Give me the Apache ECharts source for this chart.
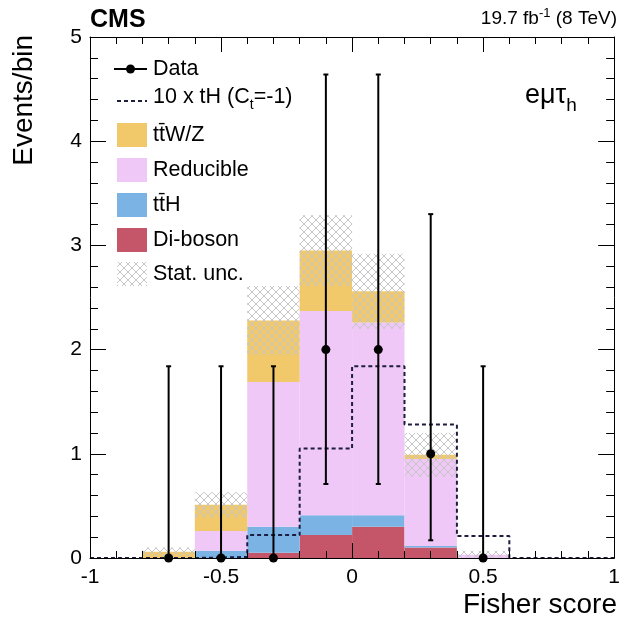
<!DOCTYPE html>
<html><head><meta charset="utf-8">
<script src="https://cdn.jsdelivr.net/npm/echarts@6/dist/echarts.min.js"></script>
<style>html,body{margin:0;padding:0;background:#fff}#c{width:623px;height:619px}</style>
</head><body><div id="c"></div>
<script>
// ---- data (bins of width 0.2 from -1 to 1) ----
const binEdges   = [-1, -0.8, -0.6, -0.4, -0.2, 0, 0.2, 0.4, 0.6, 0.8, 1];
const diboson    = [0, 0,    0,    0.05, 0.22, 0.30, 0.10,  0,    0, 0];
const ttH        = [0, 0,    0.07, 0.25, 0.19, 0.11, 0.015, 0,    0, 0];
const reducible  = [0, 0,    0.19, 1.39, 1.96, 1.85, 0.835, 0.03, 0, 0];
const ttWZ       = [0, 0.06, 0.25, 0.59, 0.58, 0.30, 0.04,  0,    0, 0];
const statUnc    = [0, 0.04, 0.12, 0.33, 0.34, 0.36, 0.21,  0.04, 0, 0];
const tH10       = [0, 0,    0.01, 0.22, 1.05, 1.84, 1.28,  0.21, 0, 0];
const dataCounts = [null, 0, 0, 0, 2, 2, 1, 0, null, null];
const dataLow    = [null, 0, 0, 0, 0.71, 0.71, 0.17, 0, null, null];
const dataHigh   = [null, 1.84, 1.84, 1.84, 4.64, 4.64, 3.30, 1.84, null, null];

const FONT = '"Liberation Sans", Arial, Helvetica, sans-serif';
const COLORS = {ttWZ:'#f1c86a', reducible:'#efc8f8', ttH:'#7ab3e4', diboson:'#c5566a'};

// hatch pattern
const pc = document.createElement('canvas'); pc.width = 8; pc.height = 8;
const g = pc.getContext('2d');
g.strokeStyle = '#c6c6c6'; g.lineWidth = 1;
g.beginPath(); g.moveTo(0,0); g.lineTo(8,8); g.moveTo(8,0); g.lineTo(0,8); g.stroke();
const hatch = {image: pc, repeat: 'repeat'};

// text measuring
const mc = document.createElement('canvas').getContext('2d');
function tw(t, size, weight) { mc.font = (weight||'normal') + ' ' + size + 'px ' + FONT; return mc.measureText(t).width; }
function pieces(x, y, parts, align) {
  let total = parts.reduce((s,p)=>s+tw(p.t,p.size,p.weight),0);
  let cx = align === 'right' ? x - total : x;
  return parts.map(p => { const el = {type:'text', x:cx, y:y+(p.dy||0), z:100,
      style:{text:p.t, font:(p.weight||'normal')+' '+p.size+'px '+FONT, fill:'#000', align:'left', verticalAlign:'middle'}};
    cx += tw(p.t,p.size,p.weight); return el; });
}

// stacking
const comps = [['Di-boson', diboson, COLORS.diboson], ['ttH', ttH, COLORS.ttH], ['Reducible', reducible, COLORS.reducible], ['ttWZ', ttWZ, COLORS.ttWZ]];
const base = binEdges.slice(0,-1).map(()=>0);
const series = [];
function rectItem(color) {
  return function(params, api) {
    const p0 = api.coord([api.value(0), api.value(3)]);
    const p1 = api.coord([api.value(1), api.value(2)]);
    return {type:'rect', shape:{x:p0[0], y:p0[1], width:p1[0]-p0[0], height:p1[1]-p0[1]}, style:{fill:color}};
  };
}
comps.forEach(([name, vals, color]) => {
  const data = vals.map((v,i)=>{ const d=[binEdges[i], binEdges[i+1], base[i], base[i]+v]; base[i]+=v; return d; });
  series.push({type:'custom', name, z:2, data, renderItem: rectItem(color), encode:{x:[0,1], y:[2,3]}});
});
const totals = base.slice();
series.push({type:'custom', name:'Stat. unc.', z:3,
  data: totals.map((t,i)=>[binEdges[i], binEdges[i+1], Math.max(0,t-statUnc[i]), t+statUnc[i]]).filter(d=>d[3]>0),
  renderItem: rectItem(hatch), encode:{x:[0,1], y:[2,3]}});
const stepData = tH10.map((v,i)=>[binEdges[i], v]); stepData.push([binEdges[binEdges.length-1], tH10[tH10.length-1]]);
series.push({type:'line', name:'10 x tH', step:'end', z:4, symbol:'none', data:stepData,
  lineStyle:{color:'#1d1d3f', width:2, type:[4,3]}});
const pts = [];
dataCounts.forEach((v,i)=>{ if (v!==null) pts.push([(binEdges[i]+binEdges[i+1])/2, v, dataLow[i], dataHigh[i]]); });
series.push({type:'custom', name:'Data', z:5, data:pts, encode:{x:0, y:[1,2,3]},
  renderItem(params, api) {
    const c = api.coord([api.value(0), api.value(1)]);
    const lo = api.coord([api.value(0), api.value(2)]);
    const hi = api.coord([api.value(0), api.value(3)]);
    const ls = {stroke:'#000', lineWidth:2};
    const ch = [
      {type:'line', shape:{x1:c[0], y1:lo[1], x2:c[0], y2:hi[1]}, style:ls},
      {type:'line', shape:{x1:c[0]-2.5, y1:hi[1], x2:c[0]+2.5, y2:hi[1]}, style:ls},
      {type:'circle', shape:{cx:c[0], cy:c[1], r:4.5}, style:{fill:'#000'}}
    ];
    if (api.value(2) > 0) ch.push({type:'line', shape:{x1:c[0]-2.5, y1:lo[1], x2:c[0]+2.5, y2:lo[1]}, style:ls});
    return {type:'group', children:ch};
  }});

// axes
const axLine = {show:true, onZero:false, lineStyle:{color:'#000', width:1}};
function xAx(pos, labels) {
  return {type:'value', min:-1, max:1, interval:0.5, position:pos, z:10,
    axisLine:axLine, splitLine:{show:false},
    axisTick:{inside:true, length:15, lineStyle:{color:'#000'}},
    minorTick:{show:true, splitNumber:5, length:7, lineStyle:{color:'#000'}},
    axisLabel:{show:labels, fontSize:21, color:'#000', margin:9, fontFamily:FONT}};
}
function yAx(pos, labels) {
  return {type:'value', min:0, max:5, interval:1, position:pos, z:10,
    axisLine:axLine, splitLine:{show:false},
    axisTick:{inside:true, length:16, lineStyle:{color:'#000'}},
    minorTick:{show:true, splitNumber:5, length:8, lineStyle:{color:'#000'}},
    axisLabel:{show:labels, fontSize:21, color:'#000', margin:8, fontFamily:FONT}};
}

// legend + texts
const LX = 117, TX = 153, LF = 21.5;
const gr = [];
gr.push({type:'line', shape:{x1:114, y1:69, x2:147, y2:69}, style:{stroke:'#000', lineWidth:2}, z:100});
gr.push({type:'circle', shape:{cx:130.5, cy:69, r:4.5}, style:{fill:'#000'}, z:100});
gr.push(...pieces(TX, 69, [{t:'Data', size:LF}]));
gr.push({type:'line', shape:{x1:117, y1:101, x2:147, y2:101}, style:{stroke:'#1d1d3f', lineWidth:2, lineDash:[4,3]}, z:100});
gr.push(...pieces(TX, 97, [{t:'10 x tH (C', size:LF}, {t:'t', size:14, dy:8}, {t:'=-1)', size:LF}]));
const boxes = [['t\u0074\u0304W/Z', COLORS.ttWZ, 135], ['Reducible', COLORS.reducible, 170], ['t\u0074\u0304H', COLORS.ttH, 205], ['Di-boson', COLORS.diboson, 240], ['Stat. unc.', hatch, 274]];
boxes.forEach(([t, col, y]) => {
  gr.push({type:'rect', shape:{x:LX, y:y-12, width:30, height:24}, style:{fill:col}, z:100});
  gr.push(...pieces(TX, y, [{t, size:LF}]));
});
gr.push(...pieces(90, 20, [{t:'CMS', size:25, weight:'bold'}]));
gr.push(...pieces(617, 19, [{t:'19.7 fb', size:19}, {t:'-1', size:13, dy:-6}, {t:' (8 TeV)', size:19}], 'right'));
gr.push(...pieces(525, 96, [{t:'e\u03bc\u03c4', size:27}, {t:'h', size:19, dy:10}]));
gr.push({type:'text', x:24, y:35, rotation:Math.PI/2, z:100,
  style:{text:'Events/bin', font:'28px '+FONT, fill:'#000', align:'right', verticalAlign:'middle'}});
gr.push({type:'text', x:617, y:605, z:100,
  style:{text:'Fisher score', font:'28px '+FONT, fill:'#000', align:'right', verticalAlign:'middle'}});

const chart = echarts.init(document.getElementById('c'), null, {renderer:'canvas'});
chart.setOption({
  animation:false, backgroundColor:'#fff',
  grid:{left:90, right:7, top:37, bottom:61},
  xAxis:[xAx('bottom', true), xAx('top', false)],
  yAxis:[yAx('left', true), yAx('right', false)],
  series, graphic: gr
});
</script></body></html>
